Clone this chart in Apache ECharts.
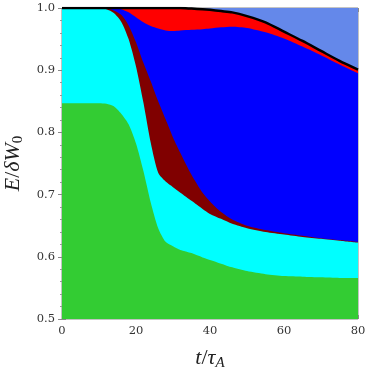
<!DOCTYPE html>
<html>
<head>
<meta charset="utf-8">
<script src="https://cdn.jsdelivr.net/npm/echarts@6/dist/echarts.min.js"></script>
<style>
    html, body { margin: 0; padding: 0; background: #fff; }
    #chart { width: 367px; height: 367px; }
</style>
</head>
<body>
<div id="chart"></div>
<script>
// 时间 t/τA
var tList = [0, 5, 10, 12, 14, 16, 18, 20, 22, 24, 26, 28, 30, 32, 35, 38, 40, 43, 46, 50, 55, 60, 65, 70, 75, 80];

// 各层的上边界 (累计值 E/δW0)
var topLight = [1, 1, 1, 1, 1, 1, 1, 1, 1, 1, 1, 1, 1, 1, 1, 1, 1, 1, 1, 1, 1, 1, 1, 1, 1, 1];
var topRed = [1, 1, 1, 1, 1, 1, 1, 1, 1, 1, 1, 1, 1, 1, 0.999, 0.998, 0.997, 0.995, 0.993, 0.987, 0.977, 0.962, 0.947, 0.931, 0.915, 0.901];
var topBlue = [1, 1, 1, 1, 0.999, 0.998, 0.993, 0.985, 0.977, 0.971, 0.967, 0.964, 0.963, 0.964, 0.965, 0.966, 0.967, 0.969, 0.970, 0.968, 0.961, 0.951, 0.938, 0.924, 0.909, 0.895];
var topMaroon = [1, 1, 1, 0.999, 0.996, 0.989, 0.972, 0.945, 0.912, 0.882, 0.850, 0.821, 0.792, 0.767, 0.732, 0.703, 0.689, 0.672, 0.660, 0.650, 0.643, 0.638, 0.634, 0.630, 0.627, 0.624];
var topCyan = [1, 1, 0.999, 0.998, 0.992, 0.978, 0.950, 0.906, 0.848, 0.783, 0.735, 0.721, 0.712, 0.703, 0.690, 0.677, 0.669, 0.661, 0.653, 0.646, 0.640, 0.636, 0.632, 0.629, 0.626, 0.623];
var topGreen = [0.847, 0.847, 0.847, 0.846, 0.842, 0.830, 0.813, 0.782, 0.738, 0.687, 0.646, 0.624, 0.617, 0.611, 0.606, 0.599, 0.595, 0.589, 0.583, 0.577, 0.572, 0.569, 0.568, 0.567, 0.566, 0.566];

// 坐标轴刻度
var xTicks = [0, 20, 40, 60, 80];
var yTicks = [0.5, 0.6, 0.7, 0.8, 0.9, 1.0];

(function () {

    'use strict';

    var myChart = echarts.init(document.getElementById('chart'));

    function pairs(vals) {
        return tList.map(function (t, i) {
            return [t, vals[i]];
        });
    }

    // 从上往下画，每层都填充到底部，后画的覆盖先画的
    function band(name, vals, color) {
        return {
            name: name,
            type: 'line',
            data: pairs(vals),
            smooth: 0.25,
            symbol: 'none',
            lineStyle: { width: 0 },
            areaStyle: { color: color, opacity: 1, origin: 'start' },
            silent: true
        };
    }

    var tickStyle = { inside: true, length: 4, lineStyle: { color: '#888', width: 1 } };
    var minorX = { show: true, splitNumber: 4, length: 2, lineStyle: { color: '#999' } };
    var minorY = { show: true, splitNumber: 5, length: 2, lineStyle: { color: '#999' } };
    var labelFont = { fontFamily: 'DejaVu Serif', fontSize: 11.5, color: '#333' };
    var italic = { fontFamily: 'Liberation Serif', fontStyle: 'italic', fontSize: 22, color: '#222' };

    var option = {
        animation: false,
        grid: {
            left: 62,
            right: 9,
            top: 8,
            bottom: 48,
            containLabel: false,
            outerBoundsMode: 'none',
            show: true,
            borderColor: '#888',
            borderWidth: 1,
            backgroundColor: 'transparent'
        },
        xAxis: [{
            type: 'value',
            min: xTicks[0],
            max: xTicks[xTicks.length - 1],
            interval: 20,
            position: 'bottom',
            axisLine: { show: false },
            axisTick: tickStyle,
            minorTick: minorX,
            splitLine: { show: false },
            axisLabel: Object.assign({ margin: 6 }, labelFont),
            name: '{i|t}{n|/}{i|τ}{s|A}',
            nameLocation: 'middle',
            nameGap: 27,
            nameTextStyle: {
                rich: {
                    i: italic,
                    n: { fontFamily: 'Liberation Serif', fontSize: 22, color: '#222' },
                    s: { fontFamily: 'Liberation Serif', fontStyle: 'italic', fontSize: 15, color: '#222', padding: [10, 0, 0, 0] }
                }
            }
        }, {
            type: 'value',
            min: xTicks[0],
            max: xTicks[xTicks.length - 1],
            interval: 20,
            position: 'top',
            axisLine: { show: false },
            axisTick: tickStyle,
            minorTick: minorX,
            splitLine: { show: false },
            axisLabel: { show: false }
        }],
        yAxis: [{
            type: 'value',
            min: yTicks[0],
            max: yTicks[yTicks.length - 1],
            interval: 0.1,
            position: 'left',
            axisLine: { show: false },
            axisTick: tickStyle,
            minorTick: minorY,
            splitLine: { show: false },
            axisLabel: Object.assign({
                margin: 7,
                formatter: function (v) { return v.toFixed(1); }
            }, labelFont),
            name: '{i|E}{n|/}{i|δW}{s|0}',
            nameLocation: 'middle',
            nameGap: 36,
            nameRotate: 90,
            nameTextStyle: {
                rich: {
                    i: italic,
                    n: { fontFamily: 'Liberation Serif', fontSize: 22, color: '#222' },
                    s: { fontFamily: 'Liberation Serif', fontSize: 15, color: '#222', padding: [10, 0, 0, 0] }
                }
            }
        }, {
            type: 'value',
            min: yTicks[0],
            max: yTicks[yTicks.length - 1],
            interval: 0.1,
            position: 'right',
            axisLine: { show: false },
            axisTick: tickStyle,
            minorTick: minorY,
            splitLine: { show: false },
            axisLabel: { show: false }
        }],
        series: [
            band('light', topLight, '#6488EA'),
            band('red', topRed, '#FF0000'),
            band('blue', topBlue, '#0000FF'),
            band('maroon', topMaroon, '#800000'),
            band('cyan', topCyan, '#00FFFF'),
            band('green', topGreen, '#33CC33'),
            {
                name: 'total',
                type: 'line',
                data: pairs(topRed),
                smooth: 0.25,
                symbol: 'none',
                lineStyle: { color: '#000', width: 2.5 },
                z: 5,
                silent: true
            }
        ]
    };

    myChart.setOption(option);
})();
</script>
</body>
</html>
